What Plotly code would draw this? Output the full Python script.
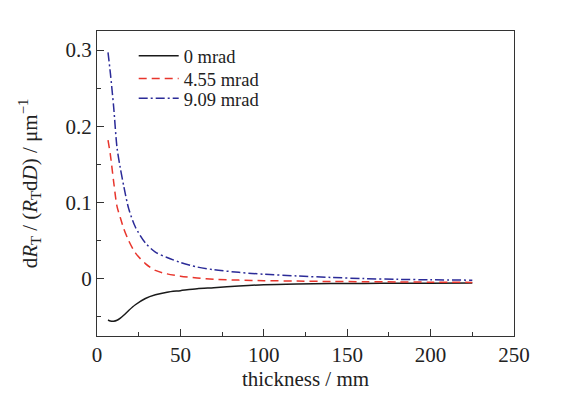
import plotly.graph_objects as go

thickness = [6.6, 8, 10, 12, 14, 16, 19, 23, 29, 35, 42, 50, 60, 70, 85, 100, 120, 140, 160, 180, 200, 225]
y_0mrad = [-0.054, -0.0553, -0.0556, -0.0543, -0.0515, -0.0478, -0.0415, -0.034, -0.0258, -0.021, -0.0175,
           -0.0155, -0.013, -0.0117, -0.0095, -0.0078, -0.0068, -0.0063, -0.006, -0.0058, -0.0057, -0.0055]
y_455mrad = [0.182, 0.163, 0.127, 0.095, 0.080, 0.066, 0.050, 0.034, 0.020, 0.011, 0.0065, 0.0035,
             0.001, -0.0005, -0.0017, -0.0024, -0.003, -0.0035, -0.0038, -0.0041, -0.0044, -0.0047]
y_909mrad = [0.297, 0.270, 0.225, 0.172, 0.145, 0.122, 0.092, 0.068, 0.047, 0.035, 0.028, 0.0215,
             0.0155, 0.0120, 0.0085, 0.006, 0.0037, 0.0018, 0.0003, -0.0007, -0.0013, -0.0018]
names = ["0 mrad", "4.55 mrad", "9.09 mrad"]
x_ticks = [0, 50, 100, 150, 200, 250]
y_ticks = [0, 0.1, 0.2, 0.3]

FONT = "Liberation Serif, Times New Roman, serif"

fig = go.Figure()
fig.add_trace(go.Scatter(x=thickness, y=y_0mrad, name=names[0], mode="lines", legend="legend",
                         line=dict(color="#1a1a1a", width=1.5, shape="spline", smoothing=0.8)))
fig.add_trace(go.Scatter(x=thickness, y=y_455mrad, name=names[1], mode="lines", legend="legend2",
                         line=dict(color="#e8352c", width=1.5, dash="8px,5px", shape="spline", smoothing=0.8)))
fig.add_trace(go.Scatter(x=thickness, y=y_909mrad, name=names[2], mode="lines", legend="legend3",
                         line=dict(color="#2b2b98", width=1.5, dash="9px,3px,2px,3px", shape="spline", smoothing=0.8)))

axis_common = dict(
    showline=True, linecolor="#333333", linewidth=1.3, mirror=True,
    ticks="inside", ticklen=7, tickwidth=1.2, tickcolor="#333333",
    showgrid=False, zeroline=False,
    tickfont=dict(family=FONT, size=21, color="#222222"),
)

leg_common = dict(x=0.088, xanchor="left", yanchor="top", itemwidth=40,
                  font=dict(family=FONT, size=18.5, color="#222222"),
                  bgcolor="rgba(0,0,0,0)")

fig.update_layout(
    width=565, height=395,
    margin=dict(l=89, r=59, t=23, b=67),
    paper_bgcolor="white", plot_bgcolor="white",
    showlegend=True,
    legend=dict(y=0.980, **leg_common),
    legend2=dict(y=0.905, **leg_common),
    legend3=dict(y=0.840, **leg_common),
    xaxis=dict(range=[0, 250], tickvals=x_ticks,
               minor=dict(ticks="inside", ticklen=4, dtick=25, tickcolor="#333333", tickwidth=1.2),
               title=dict(text="thickness / mm", font=dict(family=FONT, size=21, color="#222222"), standoff=4),
               **axis_common),
    yaxis=dict(range=[-0.075, 0.325], tickvals=y_ticks, ticktext=["0", "0.1", "0.2", "0.3"],
               minor=dict(ticks="inside", ticklen=4, dtick=0.05, tick0=0, tickcolor="#333333", tickwidth=1.2),
               title=dict(text="d<i>R</i><sub>T</sub> / (<i>R</i><sub>T</sub>d<i>D</i>) / μm<sup>−1</sup>",
                          font=dict(family=FONT, size=21, color="#222222"), standoff=22),
               **axis_common),
)

fig.write_html("out.html")
